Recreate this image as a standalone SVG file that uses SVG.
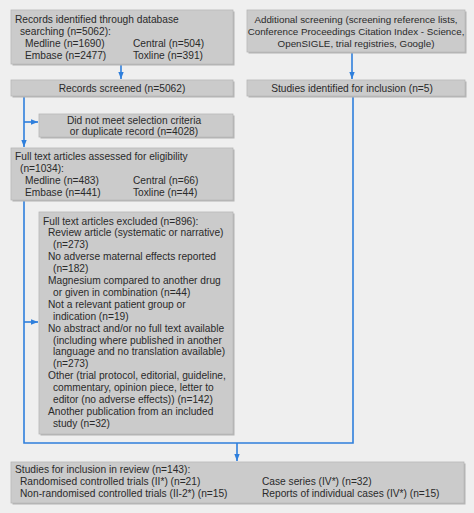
<svg xmlns="http://www.w3.org/2000/svg" width="474" height="513" viewBox="0 0 474 513">
<defs>
<style>
.bx{fill:#cbcbcb;stroke:#b8b8b8;stroke-width:0.8}
.sh{fill:#b3b3b3}
text{font-family:"Liberation Sans",Arial,sans-serif;font-size:10.2px;fill:#2a2a2a}
.c{text-anchor:middle}
.sm{font-size:9.8px}
.ln{stroke:#2f7fdc;stroke-width:1.6;fill:none}
</style>
<marker id="ah" markerWidth="8" markerHeight="8" refX="7" refY="3.5" orient="auto" markerUnits="userSpaceOnUse">
<path d="M0,0.8 L7,3.5 L0,6.2 Z" fill="#2f7fdc"/>
</marker>
</defs>
<rect width="474" height="513" fill="#efefef"/>
<g id="connectors">
<path class="ln" d="M121,64 V79" marker-end="url(#ah)"/>
<path class="ln" d="M352,52 V79" marker-end="url(#ah)"/>
<path class="ln" d="M24,97 V147" marker-end="url(#ah)"/>
<path class="ln" d="M24,122 H38" marker-end="url(#ah)"/>
<path class="ln" d="M24,200 V443 H353 V97"/>
<path class="ln" d="M24,322 H38" marker-end="url(#ah)"/>
<path class="ln" d="M237,443 V461" marker-end="url(#ah)"/>
</g>
<g id="records-identified">
<rect class="sh" x="12.5" y="11.5" width="222" height="54"/>
<rect class="bx" x="11" y="10" width="222" height="54"/>
<text x="15" y="23">Records identified through database</text>
<text x="20" y="35">searching (n=5062):</text>
<text x="25" y="47">Medline (n=1690)</text>
<text x="133" y="47">Central (n=504)</text>
<text x="25" y="59">Embase (n=2477)</text>
<text x="133" y="59">Toxline (n=391)</text>
</g>
<g id="additional-screening">
<rect class="sh" x="248.5" y="11.5" width="218" height="42"/>
<rect class="bx" x="247" y="10" width="218" height="42"/>
<text class="c sm" x="356" y="23">Additional screening (screening reference lists,</text>
<text class="c sm" x="356" y="35">Conference Proceedings Citation Index - Science,</text>
<text class="c sm" x="356" y="47">OpenSIGLE, trial registries, Google)</text>
</g>
<g id="records-screened">
<rect class="sh" x="12.5" y="81.5" width="222" height="16"/>
<rect class="bx" x="11" y="80" width="222" height="16"/>
<text class="c" x="122" y="92">Records screened (n=5062)</text>
</g>
<g id="studies-identified">
<rect class="sh" x="248.5" y="81.5" width="218" height="16"/>
<rect class="bx" x="247" y="80" width="218" height="16"/>
<text class="c" x="352" y="92">Studies identified for inclusion (n=5)</text>
</g>
<g id="not-meet">
<rect class="sh" x="40.5" y="115.5" width="194" height="23"/>
<rect class="bx" x="39" y="114" width="194" height="23"/>
<text class="c" x="134" y="124">Did not meet selection criteria</text>
<text class="c" x="134" y="135">or duplicate record (n=4028)</text>
</g>
<g id="full-text-assessed">
<rect class="sh" x="12.5" y="149.5" width="222" height="52"/>
<rect class="bx" x="11" y="148" width="222" height="52"/>
<text x="15" y="160">Full text articles assessed for eligibility</text>
<text x="20" y="172">(n=1034):</text>
<text x="25" y="184">Medline (n=483)</text>
<text x="133" y="184">Central (n=66)</text>
<text x="25" y="196">Embase (n=441)</text>
<text x="133" y="196">Toxline (n=44)</text>
</g>
<g id="full-text-excluded">
<rect class="sh" x="40.5" y="213.5" width="194" height="222"/>
<rect class="bx" x="39" y="212" width="194" height="222"/>
<text x="43" y="224.5">Full text articles excluded (n=896):</text>
<text x="48" y="236.4">Review article (systematic or narrative)</text>
<text x="53" y="248.3">(n=273)</text>
<text x="48" y="260.2">No adverse maternal effects reported</text>
<text x="53" y="272.1">(n=182)</text>
<text x="48" y="284">Magnesium compared to another drug</text>
<text x="53" y="295.9">or given in combination (n=44)</text>
<text x="48" y="307.8">Not a relevant patient group or</text>
<text x="53" y="319.7">indication (n=19)</text>
<text x="48" y="331.6">No abstract and/or no full text available</text>
<text x="53" y="343.5">(including where published in another</text>
<text x="53" y="355.4">language and no translation available)</text>
<text x="53" y="367.3">(n=273)</text>
<text x="48" y="379.2">Other (trial protocol, editorial, guideline,</text>
<text x="53" y="391.1">commentary, opinion piece, letter to</text>
<text x="53" y="403">editor (no adverse effects)) (n=142)</text>
<text x="48" y="414.9">Another publication from an included</text>
<text x="53" y="426.8">study (n=32)</text>
</g>
<g id="studies-included">
<rect class="sh" x="12.5" y="463.5" width="453" height="41"/>
<rect class="bx" x="11" y="462" width="453" height="41"/>
<text x="15" y="473">Studies for inclusion in review (n=143):</text>
<text x="20" y="485">Randomised controlled trials (II*) (n=21)</text>
<text x="262" y="485">Case series (IV*) (n=32)</text>
<text x="20" y="497">Non-randomised controlled trials (II-2*) (n=15)</text>
<text x="262" y="497">Reports of individual cases (IV*) (n=15)</text>
</g>
</svg>
